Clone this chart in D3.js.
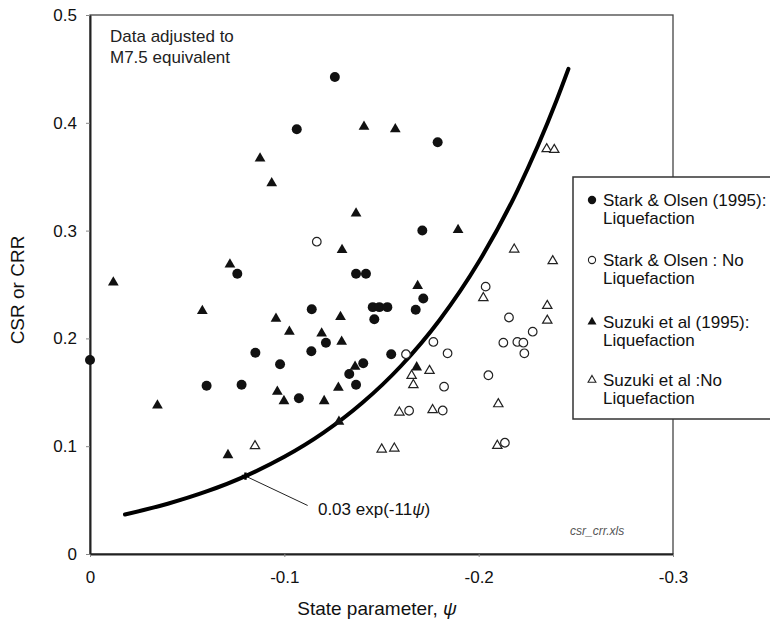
<!DOCTYPE html>
<html>
<head>
<meta charset="utf-8">
<script src="https://cdn.jsdelivr.net/npm/d3@7"></script>
<style>
  body { margin: 0; background: #fff; }
  svg { font-family: "Liberation Sans", Arial, sans-serif; }
</style>
</head>
<body>
<svg id="chart" width="770" height="623"></svg>
<script>
// Stark & Olsen (1995): Liquefaction  [psi, CSR]
const starkLiq = [
  [0, 0.180], [-0.1064, 0.394], [-0.126, 0.4425], [-0.1789, 0.382], [-0.0758, 0.260],
  [-0.1141, 0.227], [-0.1710, 0.300], [-0.1369, 0.260], [-0.1420, 0.260], [-0.1715, 0.237],
  [-0.1455, 0.229], [-0.1489, 0.229], [-0.1530, 0.229], [-0.1676, 0.2266], [-0.1463, 0.2177],
  [-0.1214, 0.196], [-0.0851, 0.1867], [-0.1139, 0.188], [-0.1550, 0.1853], [-0.0978, 0.176],
  [-0.1406, 0.177], [-0.1334, 0.167], [-0.0600, 0.156], [-0.0780, 0.157], [-0.1369, 0.157],
  [-0.1075, 0.1444]
];
// Stark & Olsen : No Liquefaction
const starkNoLiq = [
  [-0.1167, 0.2897], [-0.2036, 0.248], [-0.2156, 0.2194], [-0.2278, 0.2062], [-0.2127, 0.196],
  [-0.2199, 0.1967], [-0.2230, 0.196], [-0.2235, 0.1862], [-0.1767, 0.1967], [-0.1840, 0.1862],
  [-0.1626, 0.1853], [-0.2050, 0.1658], [-0.1822, 0.1552], [-0.1642, 0.1329], [-0.1815, 0.1331],
  [-0.2135, 0.1032]
];
// Suzuki et al (1995): Liquefaction
const suzukiLiq = [
  [-0.0120, 0.252], [-0.0347, 0.1378], [-0.0710, 0.0918], [-0.0875, 0.367], [-0.0935, 0.344],
  [-0.1410, 0.3964], [-0.1571, 0.394], [-0.1369, 0.316], [-0.1894, 0.3006], [-0.1297, 0.282],
  [-0.0720, 0.2686], [-0.1686, 0.2486], [-0.0578, 0.2254], [-0.0957, 0.2183], [-0.1289, 0.2199],
  [-0.1026, 0.2062], [-0.1192, 0.2047], [-0.1295, 0.197], [-0.1364, 0.1737], [-0.1681, 0.1732],
  [-0.0964, 0.1506], [-0.1278, 0.1543], [-0.0998, 0.1419], [-0.1205, 0.1419], [-0.1281, 0.1227]
];
// Suzuki et al :No Liquefaction
const suzukiNoLiq = [
  [-0.0849, 0.1002], [-0.2350, 0.3757], [-0.2389, 0.375], [-0.2183, 0.2826], [-0.2381, 0.2718],
  [-0.2353, 0.2303], [-0.2353, 0.2166], [-0.2024, 0.2375], [-0.1747, 0.170], [-0.1655, 0.1654],
  [-0.1664, 0.1568], [-0.1592, 0.1314], [-0.1763, 0.1336], [-0.2101, 0.1391], [-0.1501, 0.0971],
  [-0.1566, 0.098], [-0.2096, 0.1005]
];
// boundary curve 0.03 exp(-11 psi)
const curvePts = [
  [-0.018, 0.0366], [-0.04, 0.0466], [-0.06, 0.058], [-0.08, 0.0723], [-0.10, 0.0901],
  [-0.12, 0.1123], [-0.14, 0.140], [-0.16, 0.1744], [-0.18, 0.2173], [-0.20, 0.2708],
  [-0.22, 0.3374], [-0.24, 0.4204], [-0.2462, 0.450]
];
const xTicks = [0, -0.1, -0.2, -0.3];
const yTicks = [0, 0.1, 0.2, 0.3, 0.4, 0.5];
const legendLabels = [
  ["Stark & Olsen (1995):", "Liquefaction"],
  ["Stark & Olsen : No", "Liquefaction"],
  ["Suzuki et al (1995):", "Liquefaction"],
  ["Suzuki et al :No", "Liquefaction"]
];

const svg = d3.select("#chart");
const plotL = 90, plotR = 673, plotT = 15, plotB = 554;

const x = d3.scaleLinear().domain([0, -0.3]).range([plotL, plotR]);
const y = d3.scaleLinear().domain([0, 0.5]).range([plotB, plotT]);
const fmt = d => d === 0 ? "0" : d3.format(".1f")(d).replace("\u2212", "-");

// plot frame
svg.append("rect")
  .attr("x", plotL).attr("y", plotT)
  .attr("width", plotR - plotL).attr("height", plotB - plotT)
  .attr("fill", "none").attr("stroke", "#444").attr("stroke-width", 1.3);

// axes
const xAxis = svg.append("g")
  .attr("transform", `translate(0,${plotB})`)
  .call(d3.axisBottom(x).tickValues(xTicks).tickFormat(fmt).tickSize(3).tickSizeOuter(0).tickPadding(14));
const yAxis = svg.append("g")
  .attr("transform", `translate(${plotL},0)`)
  .call(d3.axisLeft(y).tickValues(yTicks).tickFormat(fmt).tickSize(4).tickSizeOuter(0).tickPadding(9));

[xAxis, yAxis].forEach(g => {
  g.select(".domain").attr("stroke", "#222").attr("stroke-width", 2);
  g.selectAll(".tick line").attr("stroke", "#888");
  g.selectAll("text").attr("font-size", 17).attr("fill", "#111")
    .attr("font-family", "'Liberation Sans', Arial, sans-serif");
});

// axis titles
const xt = svg.append("text")
  .attr("x", 377).attr("y", 615)
  .attr("text-anchor", "middle").attr("font-size", 19).attr("fill", "#111");
xt.append("tspan").text("State parameter,  ");
xt.append("tspan").attr("font-style", "italic").text("\u03c8");

svg.append("text")
  .attr("transform", "translate(24,290) rotate(-90)")
  .attr("text-anchor", "middle").attr("font-size", 19).attr("fill", "#111")
  .text("CSR or CRR");

// annotation
svg.append("text").attr("x", 110).attr("y", 42).attr("font-size", 17).attr("fill", "#222").text("Data adjusted to");
svg.append("text").attr("x", 110).attr("y", 63).attr("font-size", 17).attr("fill", "#222").text("M7.5 equivalent");

svg.append("text").attr("x", 570).attr("y", 535)
  .attr("font-size", 12).attr("font-style", "italic").attr("fill", "#555")
  .text("csr_crr.xls");

// boundary curve
const line = d3.line().x(d => x(d[0])).y(d => y(d[1])).curve(d3.curveMonotoneX);
svg.append("path").datum(curvePts)
  .attr("d", line)
  .attr("fill", "none").attr("stroke", "#000").attr("stroke-width", 4)
  .attr("stroke-linecap", "round");

// formula callout
const callPt = curvePts[3];
svg.append("line")
  .attr("x1", x(callPt[0])).attr("y1", y(callPt[1]))
  .attr("x2", x(-0.112)).attr("y2", y(0.045))
  .attr("stroke", "#222").attr("stroke-width", 1);
svg.append("path")
  .attr("d", d3.symbol(d3.symbolCross, 30)())
  .attr("transform", `translate(${x(callPt[0])},${y(callPt[1])})`)
  .attr("fill", "#000");
const ft = svg.append("text").attr("x", x(-0.1173)).attr("y", 515)
  .attr("font-size", 17).attr("fill", "#111");
ft.append("tspan").text("0.03 exp(-11");
ft.append("tspan").attr("font-style", "italic").text("\u03c8");
ft.append("tspan").text(")");

// markers
const series = [
  { data: starkLiq, type: d3.symbolCircle, size: 78, fill: "#111", stroke: "none" },
  { data: starkNoLiq, type: d3.symbolCircle, size: 58, fill: "#fff", stroke: "#222" },
  { data: suzukiLiq, type: d3.symbolTriangle, size: 50, fill: "#111", stroke: "none" },
  { data: suzukiNoLiq, type: d3.symbolTriangle, size: 38, fill: "#fff", stroke: "#222" }
];

series.forEach(s => {
  svg.append("g").selectAll("path")
    .data(s.data)
    .join("path")
    .attr("d", d3.symbol(s.type, s.size)())
    .attr("transform", d => `translate(${x(d[0])},${y(d[1])})`)
    .attr("fill", s.fill)
    .attr("stroke", s.stroke)
    .attr("stroke-width", 1.2);
});

// legend
const lg = svg.append("g");
lg.append("rect")
  .attr("x", 573).attr("y", 177).attr("width", 220).attr("height", 242)
  .attr("fill", "#fff").attr("stroke", "#333").attr("stroke-width", 1.5);

const legY = [200, 260, 322, 380];
series.forEach((s, i) => {
  lg.append("path")
    .attr("d", d3.symbol(s.type, s.size * 0.7)())
    .attr("transform", `translate(592,${legY[i]})`)
    .attr("fill", s.fill).attr("stroke", s.stroke).attr("stroke-width", 1.1);
  lg.append("text").attr("x", 603).attr("y", legY[i] + 6)
    .attr("font-size", 17).attr("fill", "#111").text(legendLabels[i][0]);
  lg.append("text").attr("x", 603).attr("y", legY[i] + 24)
    .attr("font-size", 17).attr("fill", "#111").text(legendLabels[i][1]);
});
</script>
</body>
</html>
